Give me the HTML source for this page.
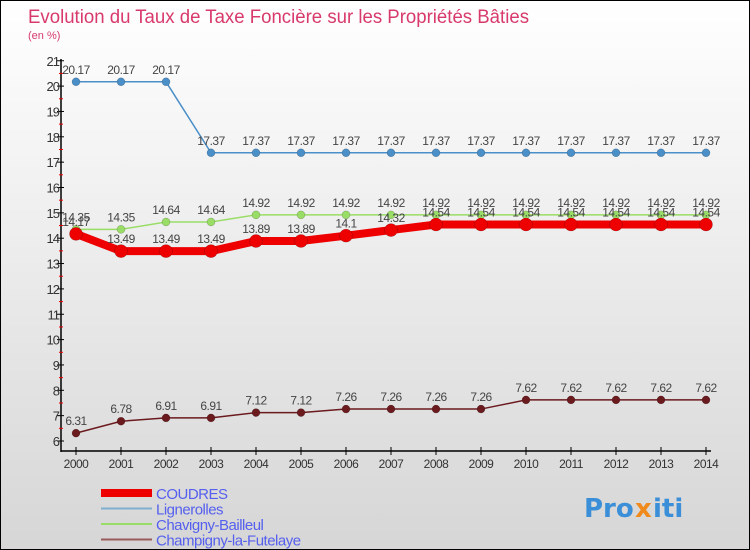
<!DOCTYPE html>
<html><head><meta charset="utf-8"><style>
body{margin:0}
#c{position:relative;width:750px;height:550px;box-sizing:border-box;border:1px solid #000;background:linear-gradient(#fff,#d6d6d6);font-family:"Liberation Sans","DejaVu Sans",sans-serif;overflow:hidden}
</style></head><body>
<div id="c">
<svg id="s" width="750" height="550" style="position:absolute;left:0;top:0">
<text x="27" y="22" font-size="19" fill="#d83a6b" textLength="501" lengthAdjust="spacingAndGlyphs">Evolution du Taux de Taxe Foncière sur les Propriétés Bâties</text>
<text x="27" y="38" font-size="11" fill="#d83a6b">(en %)</text>
<g font-size="26" font-weight="bold" font-family="DejaVu Sans, sans-serif">
<text x="583" y="516" fill="#3a8fd8">Pro</text><text x="634" y="516" fill="#f08a1c">x</text><text x="652" y="516" fill="#3a8fd8">iti</text>
</g>
</svg>
</div>
<script>
const years=[2000,2001,2002,2003,2004,2005,2006,2007,2008,2009,2010,2011,2012,2013,2014];
const coudres=[14.17,13.49,13.49,13.49,13.89,13.89,14.1,14.32,14.54,14.54,14.54,14.54,14.54,14.54,14.54];
const lignerolles=[20.17,20.17,20.17,17.37,17.37,17.37,17.37,17.37,17.37,17.37,17.37,17.37,17.37,17.37,17.37];
const chavigny=[14.35,14.35,14.64,14.64,14.92,14.92,14.92,14.92,14.92,14.92,14.92,14.92,14.92,14.92,14.92];
const champigny=[6.31,6.78,6.91,6.91,7.12,7.12,7.26,7.26,7.26,7.26,7.62,7.62,7.62,7.62,7.62];
const yTicks=[6,7,8,9,10,11,12,13,14,15,16,17,18,19,20,21];
const names=["COUDRES","Lignerolles","Chavigny-Bailleul","Champigny-la-Futelaye"];
const NS="http://www.w3.org/2000/svg",s=document.getElementById('s');
const X=i=>75+i*45, Y=v=>440-(v-6)*25.35;
function el(t,a,p){const e=document.createElementNS(NS,t);for(const k in a)e.setAttribute(k,a[k]);(p||s).appendChild(e);return e;}
let ax=el('line',{x1:60,y1:58,x2:60,y2:451,stroke:'#000','stroke-width':1.5});


let bx=el('line',{x1:60,y1:450,x2:710,y2:450,stroke:'#000','stroke-width':1.5});


yTicks.forEach(v=>{
 el('line',{x1:56,y1:Y(v),x2:63,y2:Y(v),stroke:'#000'});
 if(v<21)el('line',{x1:58,y1:Y(v+0.5),x2:62,y2:Y(v+0.5),stroke:'#e00'});
 const t=el('text',{x:58,y:Y(v)+5,'text-anchor':'end','font-size':13,fill:'#333','letter-spacing':'-1'});t.textContent=v;
 
 
});
years.forEach((y,i)=>{
 el('line',{x1:X(i),y1:446,x2:X(i),y2:454,stroke:'#000'});
 const t=el('text',{x:X(i),y:467,'text-anchor':'middle','font-size':12,fill:'#333','letter-spacing':'-0.5'});t.textContent=y;
 
 
});
function series(d,color,w,r,name){
 const g=el('g',{});
 
 
 el('polyline',{points:d.map((v,i)=>X(i)+','+Y(v)).join(' '),fill:'none',stroke:color,'stroke-width':w},g);
 d.forEach((v,i)=>{
  const c=el('circle',{cx:X(i),cy:Y(v),r:r,fill:color,stroke:'rgba(0,0,0,0.3)','stroke-width':0.5},g);
  
  
  const t=el('text',{x:X(i),y:Y(v)-8,'text-anchor':'middle','font-size':12,fill:'#444','letter-spacing':'-0.5'},g);
  t.textContent=v;
  
  
 });
}
series(champigny,'#6b1a1e',1.5,4,'champigny-series');
series(chavigny,'#99dd66',1.5,4,'chavigny-series');
series(lignerolles,'#4a8fc8',1.5,4,'lignerolles-series');
series(coudres,'#ee0000',8,6.5,'coudres-series');
const lc=['#ee0000','#7fb0d0','#99dd66','#9a5a5a'],lw=[8,2,2,2];
names.forEach((n,i)=>{
 const y=493+i*15.5;
 const g=el('g',{});
 
 
 el('line',{x1:100,y1:y-1,x2:151,y2:y-1,stroke:lc[i],'stroke-width':lw[i]},g);
 const t=el('text',{x:155,y:y+5,'font-size':15,fill:'#5560ee','letter-spacing':'-0.5'},g);t.textContent=n;
});
</script>
</body></html>
